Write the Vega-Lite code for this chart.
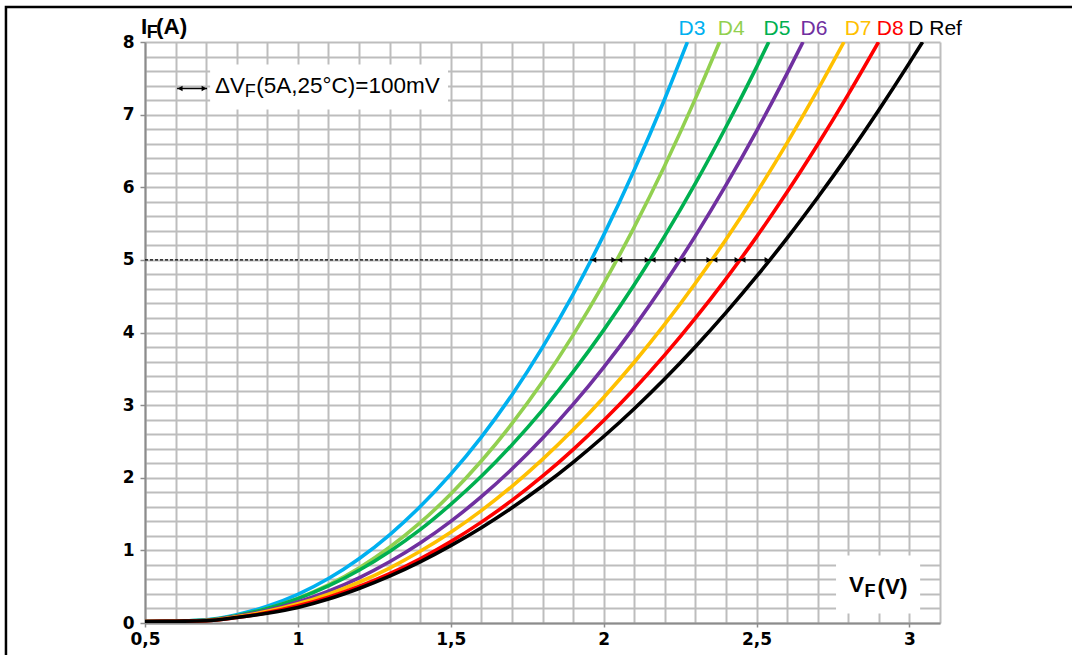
{
  "$schema": "https://vega.github.io/schema/vega-lite/v6.json",
  "width": 795,
  "height": 581,
  "autosize": {"type": "none"},
  "padding": {"left": 145, "top": 42, "right": 132, "bottom": 32},
  "background": "white",
  "config": {"view": {"stroke": null}, "font": "Liberation Sans"},
  "datasets": {
    "curves": [
      {"s":"D3","V":0.5,"I":0.02},{"s":"D3","V":0.6,"I":0.025},{"s":"D3","V":0.7,"I":0.045},{"s":"D3","V":0.8,"I":0.115},{"s":"D3","V":0.9,"I":0.232},{"s":"D3","V":1.0,"I":0.395},{"s":"D3","V":1.1,"I":0.612},{"s":"D3","V":1.2,"I":0.885},{"s":"D3","V":1.3,"I":1.215},{"s":"D3","V":1.4,"I":1.603},{"s":"D3","V":1.5,"I":2.05},{"s":"D3","V":1.6,"I":2.56},{"s":"D3","V":1.7,"I":3.14},{"s":"D3","V":1.8,"I":3.795},{"s":"D3","V":1.9,"I":4.525},{"s":"D3","V":2.0,"I":5.341},{"s":"D3","V":2.1,"I":6.238},{"s":"D3","V":2.2,"I":7.219},{"s":"D3","V":2.274,"I":8},
      {"s":"D4","V":0.5,"I":0.02},{"s":"D4","V":0.6,"I":0.025},{"s":"D4","V":0.7,"I":0.038},{"s":"D4","V":0.8,"I":0.1},{"s":"D4","V":0.9,"I":0.2},{"s":"D4","V":1.0,"I":0.34},{"s":"D4","V":1.1,"I":0.525},{"s":"D4","V":1.2,"I":0.758},{"s":"D4","V":1.3,"I":1.043},{"s":"D4","V":1.4,"I":1.381},{"s":"D4","V":1.5,"I":1.776},{"s":"D4","V":1.6,"I":2.23},{"s":"D4","V":1.7,"I":2.744},{"s":"D4","V":1.8,"I":3.322},{"s":"D4","V":1.9,"I":3.964},{"s":"D4","V":2.0,"I":4.673},{"s":"D4","V":2.1,"I":5.451},{"s":"D4","V":2.2,"I":6.299},{"s":"D4","V":2.3,"I":7.22},{"s":"D4","V":2.379,"I":8},
      {"s":"D5","V":0.5,"I":0.02},{"s":"D5","V":0.6,"I":0.025},{"s":"D5","V":0.7,"I":0.04},{"s":"D5","V":0.8,"I":0.1},{"s":"D5","V":0.9,"I":0.2},{"s":"D5","V":1.0,"I":0.335},{"s":"D5","V":1.1,"I":0.51},{"s":"D5","V":1.2,"I":0.726},{"s":"D5","V":1.3,"I":0.985},{"s":"D5","V":1.4,"I":1.285},{"s":"D5","V":1.5,"I":1.634},{"s":"D5","V":1.6,"I":2.02},{"s":"D5","V":1.7,"I":2.453},{"s":"D5","V":1.8,"I":2.932},{"s":"D5","V":1.9,"I":3.458},{"s":"D5","V":2.0,"I":4.033},{"s":"D5","V":2.1,"I":4.657},{"s":"D5","V":2.2,"I":5.33},{"s":"D5","V":2.3,"I":6.053},{"s":"D5","V":2.4,"I":6.83},{"s":"D5","V":2.5,"I":7.654},{"s":"D5","V":2.54,"I":8},
      {"s":"D6","V":0.5,"I":0.02},{"s":"D6","V":0.6,"I":0.025},{"s":"D6","V":0.7,"I":0.036},{"s":"D6","V":0.8,"I":0.091},{"s":"D6","V":0.9,"I":0.174},{"s":"D6","V":1.0,"I":0.29},{"s":"D6","V":1.1,"I":0.438},{"s":"D6","V":1.2,"I":0.622},{"s":"D6","V":1.3,"I":0.843},{"s":"D6","V":1.4,"I":1.102},{"s":"D6","V":1.5,"I":1.4},{"s":"D6","V":1.6,"I":1.739},{"s":"D6","V":1.7,"I":2.12},{"s":"D6","V":1.8,"I":2.543},{"s":"D6","V":1.9,"I":3.01},{"s":"D6","V":2.0,"I":3.521},{"s":"D6","V":2.1,"I":4.078},{"s":"D6","V":2.2,"I":4.681},{"s":"D6","V":2.3,"I":5.331},{"s":"D6","V":2.4,"I":6.029},{"s":"D6","V":2.5,"I":6.774},{"s":"D6","V":2.6,"I":7.568},{"s":"D6","V":2.652,"I":8},
      {"s":"D7","V":0.5,"I":0.02},{"s":"D7","V":0.6,"I":0.025},{"s":"D7","V":0.7,"I":0.034},{"s":"D7","V":0.8,"I":0.084},{"s":"D7","V":0.9,"I":0.16},{"s":"D7","V":1.0,"I":0.264},{"s":"D7","V":1.1,"I":0.397},{"s":"D7","V":1.2,"I":0.561},{"s":"D7","V":1.3,"I":0.757},{"s":"D7","V":1.4,"I":0.987},{"s":"D7","V":1.5,"I":1.25},{"s":"D7","V":1.6,"I":1.548},{"s":"D7","V":1.7,"I":1.882},{"s":"D7","V":1.8,"I":2.253},{"s":"D7","V":1.9,"I":2.66},{"s":"D7","V":2.0,"I":3.106},{"s":"D7","V":2.1,"I":3.59},{"s":"D7","V":2.2,"I":4.114},{"s":"D7","V":2.3,"I":4.678},{"s":"D7","V":2.4,"I":5.282},{"s":"D7","V":2.5,"I":5.925},{"s":"D7","V":2.6,"I":6.611},{"s":"D7","V":2.7,"I":7.34},{"s":"D7","V":2.786,"I":8},
      {"s":"D8","V":0.5,"I":0.02},{"s":"D8","V":0.6,"I":0.025},{"s":"D8","V":0.7,"I":0.03},{"s":"D8","V":0.8,"I":0.075},{"s":"D8","V":0.9,"I":0.143},{"s":"D8","V":1.0,"I":0.236},{"s":"D8","V":1.1,"I":0.356},{"s":"D8","V":1.2,"I":0.503},{"s":"D8","V":1.3,"I":0.679},{"s":"D8","V":1.4,"I":0.885},{"s":"D8","V":1.5,"I":1.121},{"s":"D8","V":1.6,"I":1.389},{"s":"D8","V":1.7,"I":1.688},{"s":"D8","V":1.8,"I":2.021},{"s":"D8","V":1.9,"I":2.387},{"s":"D8","V":2.0,"I":2.787},{"s":"D8","V":2.1,"I":3.221},{"s":"D8","V":2.2,"I":3.691},{"s":"D8","V":2.3,"I":4.197},{"s":"D8","V":2.4,"I":4.739},{"s":"D8","V":2.5,"I":5.317},{"s":"D8","V":2.6,"I":5.933},{"s":"D8","V":2.7,"I":6.588},{"s":"D8","V":2.8,"I":7.279},{"s":"D8","V":2.899,"I":8},
      {"s":"D Ref","V":0.5,"I":0.02},{"s":"D Ref","V":0.6,"I":0.025},{"s":"D Ref","V":0.7,"I":0.032},{"s":"D Ref","V":0.8,"I":0.075},{"s":"D Ref","V":0.9,"I":0.135},{"s":"D Ref","V":1.0,"I":0.215},{"s":"D Ref","V":1.1,"I":0.33},{"s":"D Ref","V":1.2,"I":0.475},{"s":"D Ref","V":1.3,"I":0.645},{"s":"D Ref","V":1.4,"I":0.842},{"s":"D Ref","V":1.5,"I":1.065},{"s":"D Ref","V":1.6,"I":1.312},{"s":"D Ref","V":1.7,"I":1.586},{"s":"D Ref","V":1.8,"I":1.886},{"s":"D Ref","V":1.9,"I":2.213},{"s":"D Ref","V":2.0,"I":2.568},{"s":"D Ref","V":2.1,"I":2.951},{"s":"D Ref","V":2.2,"I":3.363},{"s":"D Ref","V":2.3,"I":3.804},{"s":"D Ref","V":2.4,"I":4.274},{"s":"D Ref","V":2.5,"I":4.772},{"s":"D Ref","V":2.6,"I":5.3},{"s":"D Ref","V":2.7,"I":5.859},{"s":"D Ref","V":2.8,"I":6.446},{"s":"D Ref","V":2.9,"I":7.065},{"s":"D Ref","V":3.0,"I":7.713},{"s":"D Ref","V":3.043,"I":8}
    ],
    "labels": [
      {"s":"D3","V":2.289,"I":8.18},{"s":"D4","V":2.417,"I":8.18},{"s":"D5","V":2.567,"I":8.18},{"s":"D6","V":2.688,"I":8.18},{"s":"D7","V":2.832,"I":8.18},{"s":"D8","V":2.937,"I":8.18},{"s":"D Ref","V":3.084,"I":8.18}
    ],
    "heads": [
      {"V":1.958,"I":5,"dir":"left"},{"V":2.043,"I":5,"dir":"left"},{"V":2.152,"I":5,"dir":"left"},{"V":2.25,"I":5,"dir":"left"},{"V":2.354,"I":5,"dir":"left"},{"V":2.446,"I":5,"dir":"left"},
      {"V":2.043,"I":5,"dir":"right"},{"V":2.152,"I":5,"dir":"right"},{"V":2.25,"I":5,"dir":"right"},{"V":2.354,"I":5,"dir":"right"},{"V":2.446,"I":5,"dir":"right"},{"V":2.544,"I":5,"dir":"right"},
      {"V":0.605,"I":7.36,"dir":"left"},{"V":0.703,"I":7.36,"dir":"right"}
    ],
    "segs": [
      {"V":1.958,"V2":2.544,"I":5,"kind":"solid"},
      {"V":0.605,"V2":0.703,"I":7.36,"kind":"solid"},
      {"V":0.5,"V2":1.958,"I":5,"kind":"dash"}
    ],
    "boxes": [
      {"V":0.713,"V2":1.491,"I":7.07,"I2":7.69},
      {"V":2.76,"V2":3.035,"I":0.13,"I2":0.93}
    ],
    "frame": [
      {"V":0.0453,"V2":3.9,"I":8.482,"I2":-1}
    ]
  },
  "layer": [
    {
      "data": {"name": "curves"},
      "mark": {"type": "line", "strokeWidth": 3.6, "interpolate": "monotone", "clip": true},
      "encoding": {
        "x": {
          "field": "V", "type": "quantitative",
          "scale": {"domain": [0.5, 3.1], "nice": false, "zero": false},
          "axis": {
            "title": null,
            "values": [0.5,0.6,0.7,0.8,0.9,1,1.1,1.2,1.3,1.4,1.5,1.6,1.7,1.8,1.9,2,2.1,2.2,2.3,2.4,2.5,2.6,2.7,2.8,2.9,3,3.1],
            "tickCount": 200,
            "grid": true, "gridColor": "#BDBDBD", "gridWidth": 2,
            "domainColor": "#8C8C8C", "domainWidth": 2,
            "tickSize": 4, "tickWidth": 1.5,
            "tickColor": {"condition": {"test": "abs(datum.value*2-round(datum.value*2))<0.001", "value": "#8C8C8C"}, "value": "transparent"},
            "labelExpr": "abs(datum.value*2-round(datum.value*2))<0.001 ? replace(format(datum.value,'.1~f'),'.',',') : ''",
            "labelFont": "DejaVu Sans", "labelFontWeight": "bold", "labelFontSize": 17, "labelColor": "black",
            "labelPadding": 4, "labelFlush": false, "labelOverlap": false
          }
        },
        "y": {
          "field": "I", "type": "quantitative",
          "scale": {"domain": [0, 8], "nice": false, "zero": false},
          "axis": {
            "title": null,
            "values": [0,0.2,0.4,0.6,0.8,1,1.2,1.4,1.6,1.8,2,2.2,2.4,2.6,2.8,3,3.2,3.4,3.6,3.8,4,4.2,4.4,4.6,4.8,5,5.2,5.4,5.6,5.8,6,6.2,6.4,6.6,6.8,7,7.2,7.4,7.6,7.8,8],
            "tickCount": 200,
            "grid": true, "gridColor": "#BDBDBD", "gridWidth": 2,
            "domainColor": "#8C8C8C", "domainWidth": 2,
            "tickSize": 5, "tickWidth": 1.5,
            "tickColor": {"condition": {"test": "abs(datum.value-round(datum.value))<0.001", "value": "#8C8C8C"}, "value": "transparent"},
            "labelExpr": "abs(datum.value-round(datum.value))<0.001 ? format(datum.value,'d') : ''",
            "labelFont": "DejaVu Sans", "labelFontWeight": "bold", "labelFontSize": 17, "labelColor": "black",
            "labelPadding": 6, "labelFlush": false, "labelOverlap": false
          }
        },
        "color": {
          "field": "s", "type": "nominal", "legend": null,
          "scale": {"domain": ["D3","D4","D5","D6","D7","D8","D Ref"], "range": ["#00B0F0","#92D050","#00B050","#7030A0","#FFC000","#FF0000","#000000"]}
        }
      }
    },
    {
      "data": {"name": "segs"},
      "mark": {"type": "rule", "color": "black", "strokeWidth": 1.3},
      "encoding": {
        "x": {"field": "V", "type": "quantitative"},
        "x2": {"field": "V2"},
        "y": {"field": "I", "type": "quantitative"},
        "strokeDash": {"field": "kind", "type": "nominal", "legend": null, "scale": {"domain": ["solid", "dash"], "range": [[1, 0], [3, 2]]}}
      }
    },
    {
      "data": {"name": "heads"},
      "transform": [{"filter": "datum.dir == 'left'"}],
      "mark": {"type": "point", "shape": "triangle-left", "filled": true, "color": "black", "size": 32, "opacity": 1, "xOffset": 3},
      "encoding": {
        "x": {"field": "V", "type": "quantitative"},
        "y": {"field": "I", "type": "quantitative"}
      }
    },
    {
      "data": {"name": "heads"},
      "transform": [{"filter": "datum.dir == 'right'"}],
      "mark": {"type": "point", "shape": "triangle-right", "filled": true, "color": "black", "size": 32, "opacity": 1, "xOffset": -3},
      "encoding": {
        "x": {"field": "V", "type": "quantitative"},
        "y": {"field": "I", "type": "quantitative"}
      }
    },
    {
      "data": {"name": "boxes"},
      "mark": {"type": "rect", "fill": "white"},
      "encoding": {
        "x": {"field": "V", "type": "quantitative"},
        "x2": {"field": "V2"},
        "y": {"field": "I", "type": "quantitative"},
        "y2": {"field": "I2"}
      }
    },
    {
      "data": {"values": [
        {"t": "ΔV", "V": 0.729, "I": 7.40, "sz": "big"},
        {"t": "F", "V": 0.826, "I": 7.31, "sz": "sub"},
        {"t": "(5A,25°C)=100mV", "V": 0.864, "I": 7.40, "sz": "big"}
      ]},
      "mark": {"type": "text", "align": "left", "baseline": "middle", "font": "Liberation Sans", "color": "black"},
      "encoding": {
        "x": {"field": "V", "type": "quantitative"},
        "y": {"field": "I", "type": "quantitative"},
        "text": {"field": "t"},
        "size": {"field": "sz", "type": "nominal", "legend": null, "scale": {"domain": ["big", "sub"], "range": [22.5, 18]}}
      }
    },
    {
      "data": {"values": [
        {"t": "I", "V": 0.487, "I": 8.20, "sz": "big"},
        {"t": "F", "V": 0.506, "I": 8.12, "sz": "sub"},
        {"t": "(A)", "V": 0.536, "I": 8.20, "sz": "big"},
        {"t": "V", "V": 2.802, "I": 0.53, "sz": "big"},
        {"t": "F", "V": 2.853, "I": 0.42, "sz": "sub"},
        {"t": "(V)", "V": 2.896, "I": 0.50, "sz": "big"}
      ]},
      "mark": {"type": "text", "align": "left", "baseline": "middle", "font": "Liberation Sans", "fontWeight": "bold", "color": "black"},
      "encoding": {
        "x": {"field": "V", "type": "quantitative"},
        "y": {"field": "I", "type": "quantitative"},
        "text": {"field": "t"},
        "size": {"field": "sz", "type": "nominal", "legend": null, "scale": {"domain": ["big", "sub"], "range": [20, 15]}}
      }
    },
    {
      "data": {"name": "labels"},
      "mark": {"type": "text", "align": "center", "baseline": "middle", "font": "Liberation Sans", "fontSize": 21},
      "encoding": {
        "x": {"field": "V", "type": "quantitative"},
        "y": {"field": "I", "type": "quantitative"},
        "text": {"field": "s"},
        "color": {"field": "s", "type": "nominal", "legend": null}
      }
    },
    {
      "data": {"name": "frame"},
      "mark": {"type": "rect", "fillOpacity": 0, "stroke": "black", "strokeWidth": 2.5},
      "encoding": {
        "x": {"field": "V", "type": "quantitative"},
        "x2": {"field": "V2"},
        "y": {"field": "I", "type": "quantitative"},
        "y2": {"field": "I2"}
      }
    }
  ]
}
